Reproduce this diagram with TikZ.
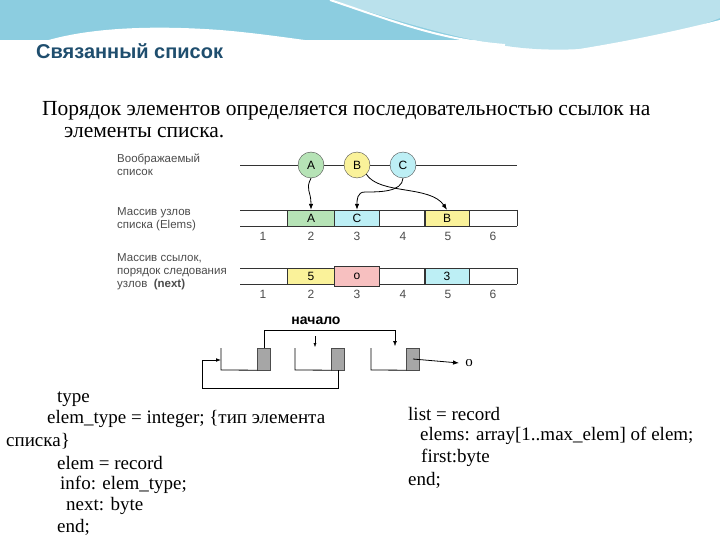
\documentclass[tikz,border=0pt]{standalone}
\usepackage{fontspec}
\setmainfont{Liberation Serif}
\setsansfont{Liberation Sans}
\usetikzlibrary{arrows.meta}
\definecolor{ttl}{HTML}{1F4E6E}
\definecolor{cg}{HTML}{B6E3B6}
\definecolor{cy}{HTML}{FAF29A}
\definecolor{cc}{HTML}{BDEFF5}
\definecolor{cp}{HTML}{F7C0C0}
\definecolor{sky}{HTML}{8CCDE0}
\begin{document}
\begin{tikzpicture}[x=1pt,y=-1pt,
  lbl/.style={font=\sffamily\fontsize{11.5}{13}\selectfont,text=black!70,align=left,anchor=north west,inner sep=0},
  num/.style={font=\sffamily\fontsize{12}{13}\selectfont,text=black!70},
  circ/.style={circle,draw=black!70,minimum size=26pt,inner sep=0,font=\sffamily\fontsize{12}{13}\selectfont},
  cell/.style={draw=black!80,minimum width=46pt,minimum height=16pt,inner sep=0,font=\sffamily\fontsize{12}{13}\selectfont},
  gbox/.style={draw=black!70,fill=black!35,minimum width=13pt,minimum height=22pt,inner sep=0},
  txt/.style={font=\fontsize{19}{21}\selectfont,anchor=west,inner sep=0},
  arr/.style={-{Latex[length=6pt]},thick}]
\useasboundingbox (0,0) rectangle (720,540);
% background swoosh
\fill[sky] (0,0) rectangle (720,40);
\fill[sky!60] (330,0) -- (720,0) -- (720,18) .. controls (640,50) and (560,55) .. (500,45) .. controls (440,35) and (380,15) .. (330,0) -- cycle;
\fill[white] (0,65) .. controls (30,35) and (110,22) .. (220,30) .. controls (320,38) and (450,70) .. (560,52) .. controls (640,40) and (700,25) .. (720,20) -- (720,540) -- (0,540) -- cycle;
\draw[white,line width=2pt] (330,0) .. controls (390,20) and (440,40) .. (505,45);
\node[font=\sffamily\bfseries\fontsize{20}{22}\selectfont,text=ttl,anchor=west,inner sep=0] (title) at (36,51) {Связанный список};
\node[font=\fontsize{21.5}{23}\selectfont,anchor=west,inner sep=0] (p1) at (42,111) {Порядок элементов определяется последовательностью ссылок на};
\node[font=\fontsize{21.5}{23}\selectfont,anchor=west,inner sep=0] (p2) at (64,133) {элементы списка.};
% labels
\node[lbl] (l1) at (117,154) {Воображаемый\\список};
\node[lbl] (l2) at (117,207) {Массив узлов\\списка (Elems)};
\node[lbl] (l3) at (117,253) {Массив ссылок,\\порядок следования\\узлов \ \textbf{(next)}};
% imaginary list
\draw[black!80] (240,165) -- (517,165);
\node[circ,fill=cg] (cA) at (311,165) {A};
\node[circ,fill=cy] (cB) at (357,165) {B};
\node[circ,fill=cc] (cC) at (403,165) {C};
% arrays
\foreach \i/\x in {1/263,2/311,3/357,4/403,5/448,6/493}{
  \node[num] (n1\i) at (\x,236) {\i};
  \node[num] (n2\i) at (\x,294) {\i};}
\draw[black!80] (240,210) -- (517,210) (240,226) -- (517,226) (517,210) -- (517,226);
\draw[black!80] (240,268) -- (517,268) (240,284) -- (517,284) (517,268) -- (517,284);
\node[cell,fill=cg,minimum width=47pt] (eA) at (311,218) {A};
\node[cell,fill=cc,minimum width=45pt] (eC) at (357,218) {C};
\node[cell,fill=white,minimum width=45pt] (e4) at (402,218) {};
\node[cell,fill=cy,minimum width=44pt] (eB) at (447,218) {B};
\node[cell,fill=cy,minimum width=47pt] (r2) at (311,276) {5};
\node[cell,fill=cp,minimum width=45pt,minimum height=20pt] (r3) at (357,276) {o};
\node[cell,fill=white,minimum width=45pt] (r4) at (402,276) {};
\node[cell,fill=cc,minimum width=44pt] (r5) at (447,276) {3};
\draw[arr] (cA.south) .. controls (305,190) and (311,190) .. (eA.north);
\draw[arr] (cC.south) .. controls (402,192) and (380,192) .. (365,192) .. controls (357,192) and (357,200) .. (eC.north);
\draw[arr] (cB.south east) .. controls (380,195) and (430,185) .. (eB.north);
% linked nodes
\node[gbox] (g1) at (264,359) {};
\node[gbox] (g2) at (338,359) {};
\node[gbox] (g3) at (413,359) {};
\draw[thick] (221,348) -- (221,370) -- (g1.south west);
\draw[thick] (295,348) -- (295,370) -- (g2.south west);
\draw[thick] (371,348) -- (371,370) -- (g3.south west);
\node[font=\sffamily\bfseries\fontsize{14}{16}\selectfont,inner sep=0] (start) at (316,321) {начало};
\coordinate (sA) at (315,336);
\draw[-{Latex[length=4pt]}] (sA) -- (315,347);
\draw[-{Latex[length=5pt]}] (g1.north) |- (395,330) -- (395,346);
\node[font=\fontsize{15}{17}\selectfont,inner sep=0] (nil) at (469,363) {o};
\draw[arr] (g3.center) -- ([xshift=-6pt]nil.west);
\draw[-{Latex[length=5pt]},thick] (g2.south) -- (338,388) -- (202,388) -- (202,360) -- (221,360);
% code
\node[txt] (t1) at (57,399) {type};
\node[txt] (t2) at (47,419) {elem\_type = integer; \{тип элемента};
\node[txt] (t3) at (6,441) {списка\}};
\node[txt] (t4) at (57,463) {elem = record};
\node[txt] (t5) at (60,485) {info: elem\_type;};
\node[txt] (t6) at (66,506) {next: byte};
\node[txt] (t7) at (57,527) {end;};
\node[txt] (u1) at (408,414) {list = record};
\node[txt] (u2) at (420,436) {elems: array[1..max\_elem] of elem;};
\node[txt] (u3) at (421,458) {first:byte};
\node[txt] (u4) at (408,480) {end;};
\end{tikzpicture}
\end{document}
